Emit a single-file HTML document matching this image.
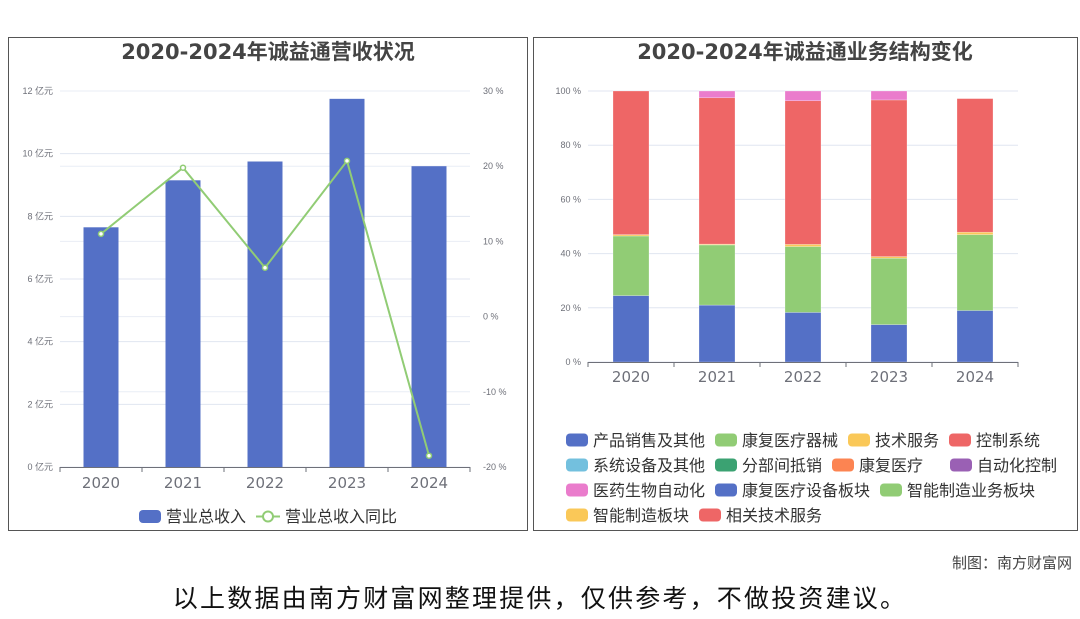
<!DOCTYPE html>
<html><head><meta charset="utf-8">
<style>
body{margin:0;background:#fff;width:1080px;height:614px;overflow:hidden;font-family:"Liberation Sans","Noto Sans CJK SC",sans-serif;}
svg text{font-family:"Liberation Sans","Noto Sans CJK SC",sans-serif;}
svg text.dv{font-family:"DejaVu Sans","Noto Sans CJK SC",sans-serif;}
</style></head>
<body>
<svg id="s" width="1080" height="614" xmlns="http://www.w3.org/2000/svg">
<rect x="8.5" y="37.5" width="519" height="493" fill="none" stroke="#555"/>
<rect x="533.5" y="37.5" width="544" height="493" fill="none" stroke="#555"/>
<text class="dv" x="268" y="59" text-anchor="middle" font-size="21" font-weight="bold" fill="#444">2020-2024年诚益通营收状况</text>
<text class="dv" x="805" y="59" text-anchor="middle" font-size="21" font-weight="bold" fill="#444">2020-2024年诚益通业务结构变化</text>
<g id="left"></g><g id="right"></g>
<text x="1072" y="568" text-anchor="end" font-size="15" fill="#444">制图：南方财富网</text>
<text x="540" y="607" text-anchor="middle" font-size="25" letter-spacing="2.2" fill="#111">以上数据由南方财富网整理提供，仅供参考，不做投资建议。</text>
</svg>
<script>
const years=['2020','2021','2022','2023','2024'];
const revenue=[7.65,9.15,9.75,11.75,9.6];
const growth=[11.0,19.8,6.5,20.7,-18.5];
const leftTicks=[0,2,4,6,8,10,12];
const rightTicks=[-20,-10,0,10,20,30];
const seriesNames=['产品销售及其他','康复医疗器械','技术服务','控制系统','系统设备及其他','分部间抵销','康复医疗','自动化控制','医药生物自动化','康复医疗设备板块','智能制造业务板块','智能制造板块','相关技术服务'];
const seriesColors=['#5470c6','#91cc75','#fac858','#ee6666','#73c0de','#3ba272','#fc8452','#9a60b4','#ea7ccc','#5470c6','#91cc75','#fac858','#ee6666'];
const shareValues=[
[24.5,21,18.3,13.8,0],
[22,22.2,24.3,24.5,0],
[0.5,0.3,0.8,0.6,0],
[53,54,53,57.8,0],
[0,0,0,0,0],
[0,0,0,0,0],
[0,0,0,0,0],
[0,0,0,0,0],
[0,2.5,3.6,3.3,0],
[0,0,0,0,19],
[0,0,0,0,28],
[0,0,0,0,0.9],
[0,0,0,0,49.3]];
const pctTicks=[0,20,40,60,80,100];
const NS='http://www.w3.org/2000/svg';
function mk(tag,attrs,parent,txt){const e=document.createElementNS(NS,tag);for(const k in attrs)e.setAttribute(k,attrs[k]);if(txt!==undefined)e.textContent=txt;parent.appendChild(e);return e;}
const L=document.getElementById('left');
const lx0=60,lx1=470,ly0=467,ly1=91;
const band=(lx1-lx0)/years.length;
const yL=v=>ly0-(v/12)*(ly0-ly1);
const yR=v=>ly0-((v+20)/50)*(ly0-ly1);
leftTicks.forEach(t=>{
 const g=mk('line',{x1:lx0,x2:lx1,y1:yL(t),y2:yL(t),stroke:'#e0e6f1'},L);
 
 const tx=mk('text',{x:lx0-7,y:yL(t)+3,'text-anchor':'end','font-size':9,fill:'#6e7079'},L,t+' 亿元');
 
});
rightTicks.forEach(t=>{
 const g=mk('line',{x1:lx0,x2:lx1,y1:yR(t),y2:yR(t),stroke:'#e9edf5'},L);
 
 const tx=mk('text',{x:lx1+13,y:yR(t)+3,'font-size':9,fill:'#6e7079'},L,t+' %');
 
});
revenue.forEach((v,i)=>{
 const cx=lx0+band*(i+0.5);
 const r=mk('rect',{x:cx-17.5,y:yL(v),width:35,height:ly0-yL(v),fill:'#5470c6'},L);
 
});
const ax=mk('line',{x1:lx0,x2:lx1,y1:ly0+0.5,y2:ly0+0.5,stroke:'#6e7079'},L);

years.forEach((y,i)=>{
 const tk=mk('line',{x1:lx0+band*i,x2:lx0+band*i,y1:ly0,y2:ly0+5,stroke:'#6e7079'},L);
 
 const tx=mk('text',{class:'dv',x:lx0+band*(i+0.5),y:ly0+21,'text-anchor':'middle','font-size':15,fill:'#6e7079'},L,y);
 
});
const tk5=mk('line',{x1:lx1,x2:lx1,y1:ly0,y2:ly0+5,stroke:'#6e7079'},L);

const pts=growth.map((v,i)=>(lx0+band*(i+0.5))+','+yR(v)).join(' ');
const pl=mk('polyline',{points:pts,fill:'none',stroke:'#91cc75','stroke-width':2},L);

growth.forEach((v,i)=>{
 const c=mk('circle',{cx:lx0+band*(i+0.5),cy:yR(v),r:2.5,fill:'#fff',stroke:'#91cc75','stroke-width':1.5},L);
 
});
const lg1=mk('rect',{x:139,y:510,width:22,height:13,rx:4,fill:'#5470c6'},L);

const lt1=mk('text',{x:166,y:522,'font-size':16,fill:'#333'},L,'营业总收入');

const ll=mk('line',{x1:256,x2:280,y1:516.5,y2:516.5,stroke:'#91cc75','stroke-width':2},L);

const lc=mk('circle',{cx:268,cy:516.5,r:5,fill:'#fff',stroke:'#91cc75','stroke-width':2},L);

const lt2=mk('text',{x:285,y:522,'font-size':16,fill:'#333'},L,'营业总收入同比');

const R=document.getElementById('right');
const rx0=588,rx1=1018,ry0=362,ry1=91;
const rband=(rx1-rx0)/years.length;
const yP=v=>ry0-(v/100)*(ry0-ry1);
pctTicks.forEach(t=>{
 const g=mk('line',{x1:rx0,x2:rx1,y1:yP(t),y2:yP(t),stroke:'#e0e6f1'},R);
 
 const tx=mk('text',{x:rx0-7,y:yP(t)+3,'text-anchor':'end','font-size':9,fill:'#6e7079'},R,t+' %');
 
});
years.forEach((y,i)=>{
 let acc=0;const cx=rx0+rband*(i+0.5);
 shareValues.forEach((s,k)=>{
  const v=s[i];if(!v)return;
  const r=mk('rect',{x:cx-18,y:yP(acc+v),width:36,height:yP(acc)-yP(acc+v),fill:seriesColors[k],stroke:'rgba(255,255,255,0.5)','stroke-width':0.5},R);
  
  acc+=v;
 });
});
const rax=mk('line',{x1:rx0,x2:rx1,y1:ry0+0.5,y2:ry0+0.5,stroke:'#6e7079'},R);

for(let i=0;i<=years.length;i++){
 const tk=mk('line',{x1:rx0+rband*i,x2:rx0+rband*i,y1:ry0,y2:ry0+5,stroke:'#6e7079'},R);
 
}
years.forEach((y,i)=>{
 const tx=mk('text',{class:'dv',x:rx0+rband*(i+0.5),y:ry0+20,'text-anchor':'middle','font-size':15,fill:'#6e7079'},R,y);
 
});
const legPos=[[566,440],[715,440],[848,440],[949,440],[566,465],[715,465],[832,465],[950,465],[566,490],[715,490],[880,490],[566,515],[699,515]];
seriesNames.forEach((n,k)=>{
 const [x,y]=legPos[k];
 const sw=mk('rect',{x:x,y:y-6.5,width:22,height:13,rx:4,fill:seriesColors[k]},R);
 
 const tx=mk('text',{x:x+27,y:y+6,'font-size':16,fill:'#333'},R,n);
 
});
</script>
</body></html>
